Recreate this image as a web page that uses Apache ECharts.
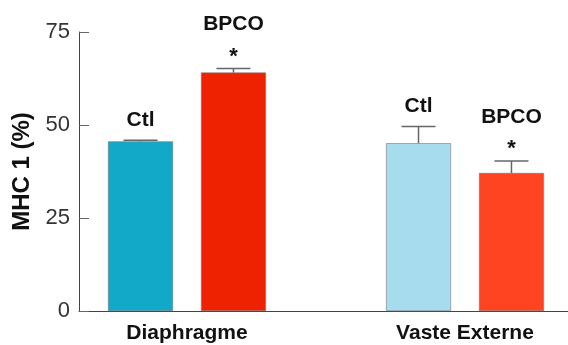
<!DOCTYPE html>
<html>
<head>
<meta charset="utf-8">
<script src="https://cdn.jsdelivr.net/npm/echarts@6/dist/echarts.min.js"></script>
<style>html,body{margin:0;padding:0;background:#fff}#c{width:568px;height:345px}</style>
</head>
<body>
<div id="c"></div>
<script>
const categories = ['Diaphragme', 'Vaste Externe'];
const groupNames = ['Ctl', 'BPCO'];
const ctlValues = [45.6, 45.1];
const ctlErrors = [0.3, 4.5];
const bpcoValues = [64.1, 37.1];
const bpcoErrors = [1.1, 3.2];
const bpcoMarks = ['*', '*'];
const yMin = 0, yMax = 75, yInterval = 25;

const ctlColors = ['#12a8c8', '#a6dcee'];
const bpcoColors = ['#ee2200', '#ff4422'];
const FONT = '"Liberation Sans", Arial, sans-serif';
const barWidth = 65;
const barGapRatio = 0.43;
const barOffset = (barWidth + barWidth * barGapRatio) / 2;

function errRender(sign, labels, marks) {
  return function (params, api) {
    const cat = api.value(0), val = api.value(1), err = api.value(2);
    const base = api.coord([cat, val]);
    const top = api.coord([cat, val + err]);
    const x = base[0] + sign * barOffset;
    const capHalf = 17;
    const children = [
      {type: 'line', shape: {x1: x, y1: base[1], x2: x, y2: top[1]}, style: {stroke: '#666', lineWidth: 1.5}},
      {type: 'line', shape: {x1: x - capHalf, y1: top[1], x2: x + capHalf, y2: top[1]}, style: {stroke: '#666', lineWidth: 1.5}}
    ];
    if (marks) {
      children.push({type: 'text', style: {text: marks[params.dataIndex], x: x, y: top[1] - 12, align: 'center', verticalAlign: 'middle', font: 'bold 22px ' + FONT, fill: '#111'}});
      children.push({type: 'text', style: {text: labels, x: x, y: top[1] - 44, align: 'center', verticalAlign: 'middle', font: 'bold 21px ' + FONT, fill: '#111'}});
    } else {
      children.push({type: 'text', style: {text: labels, x: x, y: top[1] - 20, align: 'center', verticalAlign: 'middle', font: 'bold 21px ' + FONT, fill: '#111'}});
    }
    return {type: 'group', children: children};
  };
}

const chart = echarts.init(document.getElementById('c'), null, {renderer: 'canvas'});
chart.setOption({
  animation: false,
  backgroundColor: '#fff',
  grid: [
    {left: 79, right: 0, top: 32, bottom: 34, outerBoundsMode: 'none'},
    {left: 48, right: -36, top: 32, bottom: 34, outerBoundsMode: 'none'}
  ],
  xAxis: [
    {type: 'category', gridIndex: 0, data: categories, axisLine: {show: true, lineStyle: {color: '#444', width: 1}}, axisTick: {show: false}, axisLabel: {show: false}},
    {type: 'category', gridIndex: 1, data: categories, axisLine: {show: false}, axisTick: {show: false},
      axisLabel: {margin: 12, fontSize: 21, fontWeight: 'bold', color: '#111', fontFamily: FONT}}
  ],
  yAxis: [
    {type: 'value', gridIndex: 0, min: yMin, max: yMax, interval: yInterval,
      name: 'MHC 1 (%)', nameLocation: 'middle', nameGap: 44,
      nameTextStyle: {fontSize: 24, fontWeight: 'bold', color: '#111', fontFamily: FONT},
      axisLine: {show: true, lineStyle: {color: '#444', width: 1}},
      axisTick: {show: true, inside: true, length: 10, lineStyle: {color: '#666'}},
      axisLabel: {margin: 9, fontSize: 22, color: '#333', fontFamily: FONT},
      splitLine: {show: false}},
    {type: 'value', gridIndex: 1, min: yMin, max: yMax, interval: yInterval, show: false, splitLine: {show: false}}
  ],
  series: [
    {name: groupNames[0], type: 'bar', xAxisIndex: 1, yAxisIndex: 1, barWidth: barWidth, barGap: (barGapRatio * 100) + '%',
      data: ctlValues.map((v, i) => ({value: v, itemStyle: {color: ctlColors[i], borderColor: '#777', borderWidth: 0.6}}))},
    {name: groupNames[1], type: 'bar', xAxisIndex: 1, yAxisIndex: 1, barWidth: barWidth, barGap: (barGapRatio * 100) + '%',
      data: bpcoValues.map((v, i) => ({value: v, itemStyle: {color: bpcoColors[i], borderColor: '#777', borderWidth: 0.6}}))},
    {type: 'custom', xAxisIndex: 1, yAxisIndex: 1, renderItem: errRender(-1, groupNames[0], null),
      data: ctlValues.map((v, i) => [i, v, ctlErrors[i]]), z: 5},
    {type: 'custom', xAxisIndex: 1, yAxisIndex: 1, renderItem: errRender(1, groupNames[1], bpcoMarks),
      data: bpcoValues.map((v, i) => [i, v, bpcoErrors[i]]), z: 5}
  ]
});
</script>
</body>
</html>
